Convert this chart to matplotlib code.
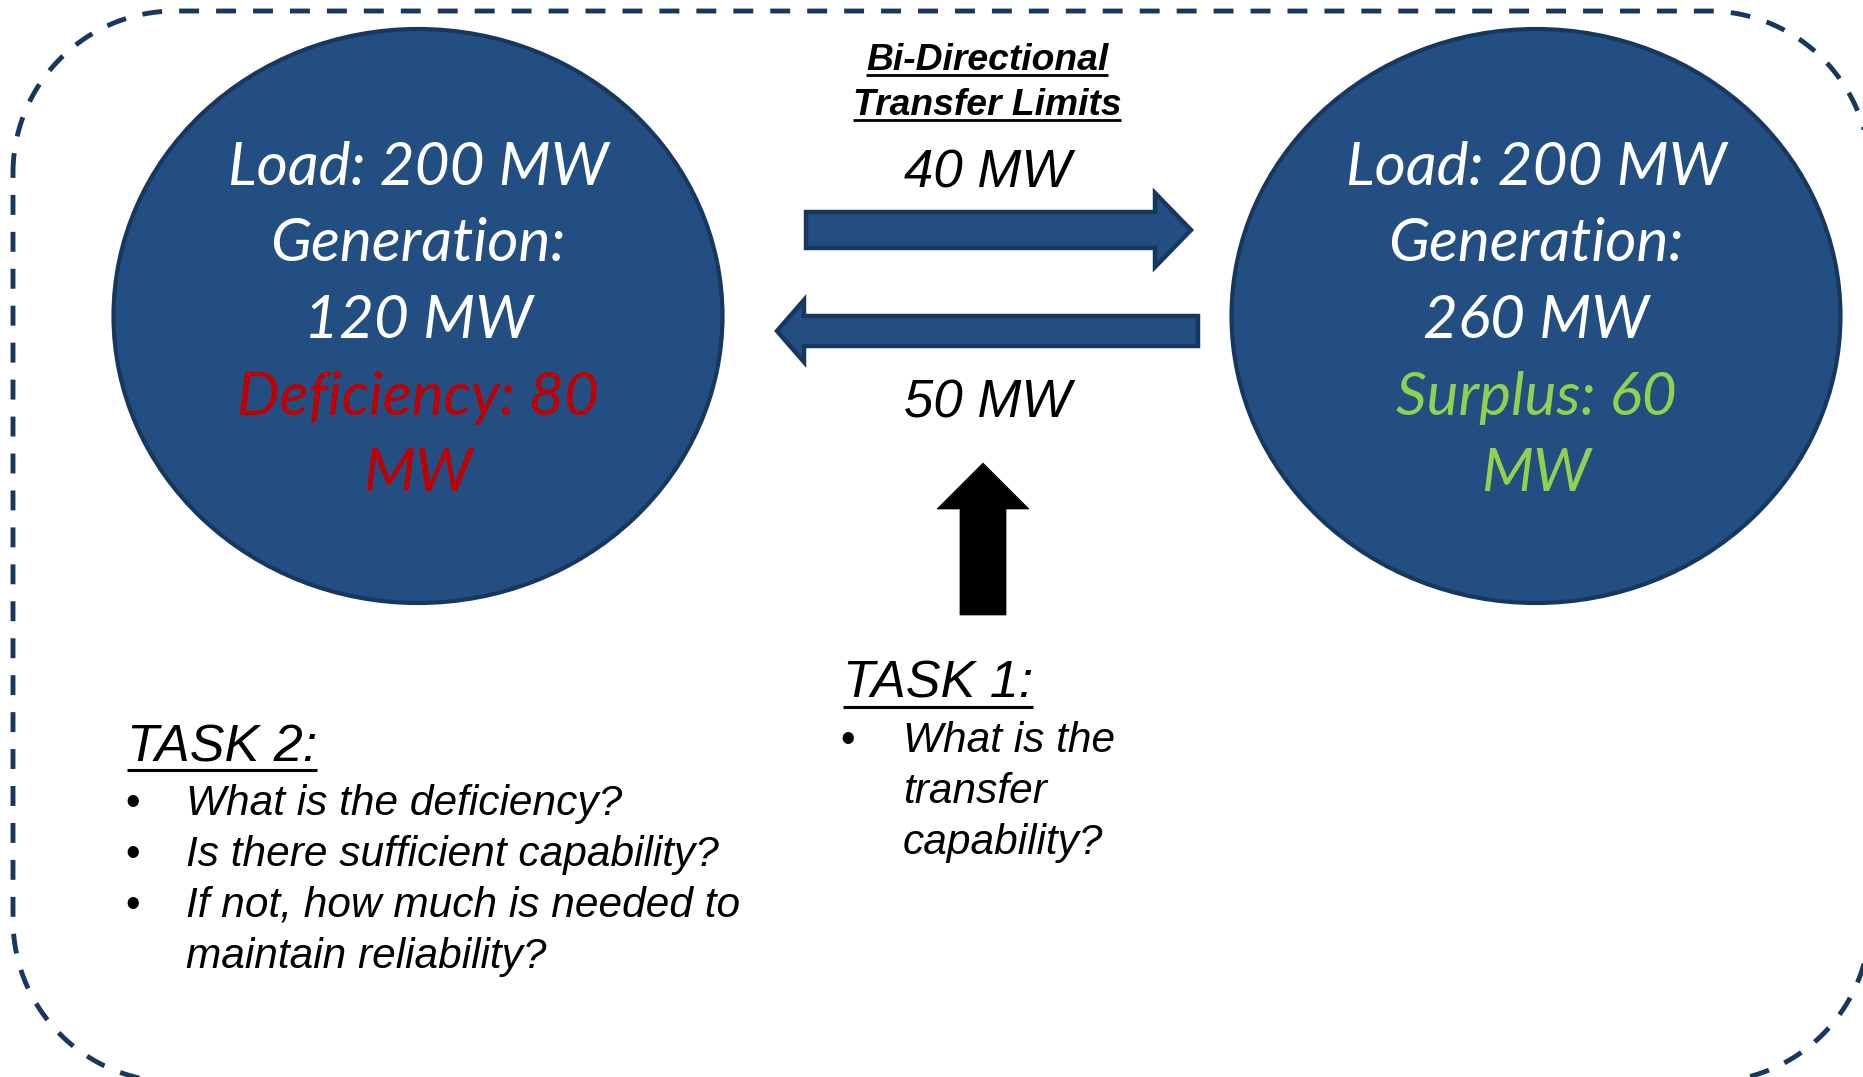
import matplotlib
matplotlib.use("Agg")
import numpy as np
import matplotlib.pyplot as plt
from matplotlib.patches import Ellipse, Polygon
from matplotlib.lines import Line2D

# ---------------- data ----------------
load_mw = [200, 200]
generation_mw = [120, 260]
balance_label = ["Deficiency", "Surplus"]
balance_mw = [80, 60]
transfer_limits_mw = [40, 50]          # left->right, right->left
limits_title = ["Bi-Directional", "Transfer Limits"]
task1_title = "TASK 1:"
task1_lines = ["What is the", "transfer", "capability?"]
task2_title = "TASK 2:"
task2_items = [["What is the deficiency?"],
               ["Is there sufficient capability?"],
               ["If not, how much is needed to", "maintain reliability?"]]

# ---------------- styles ----------------
NAVY = "#234E81"
NAVY_EDGE = "#18375F"
BORDER = "#17375E"
RED = "#C00000"
GREEN = "#92D050"
ARIAL = ["Liberation Sans", "DejaVu Sans"]
CAL = ["Lato", "DejaVu Sans"]

W, H = 1863, 1077
fig = plt.figure(figsize=(W / 100, H / 100), dpi=100)
ax = fig.add_axes([0, 0, 1, 1])
ax.set_xlim(0, W)
ax.set_ylim(H, 0)
ax.axis("off")
renderer = fig.canvas.get_renderer()


def text_width(s, **kw):
    t = ax.text(0, 500, s, **kw)
    w = t.get_window_extent(renderer).width
    t.remove()
    return w


def underline(t, dy, lw):
    bb = t.get_window_extent(renderer)
    inv = ax.transData.inverted()
    x0 = inv.transform((bb.x0, 0))[0]
    x1 = inv.transform((bb.x1, 0))[0]
    y = t.get_position()[1] + dy
    ax.add_line(Line2D([x0, x1], [y, y], color="black", lw=lw, solid_capstyle="butt"))


def rounded_rect(x0, y0, x1, y1, r, n=60):
    xs, ys = [], []
    corners = [(x0 + r, y0 + r, 180, 270), (x1 - r, y0 + r, 270, 360),
               (x1 - r, y1 - r, 0, 90), (x0 + r, y1 - r, 90, 180)]
    for cx, cy, a0, a1 in corners:
        a = np.radians(np.linspace(a0, a1, n))
        xs.extend(cx + r * np.cos(a))
        ys.extend(cy + r * np.sin(a))
    xs.append(xs[0])
    ys.append(ys[0])
    return xs, ys


# dashed rounded border
bx, by = rounded_rect(13, 11, 1870, 1082, 162)
ax.plot(bx, by, color=BORDER, lw=3.5, linestyle=(0, (4.1, 3.5)), clip_on=False)

# circles
centers_x = [418, 1536]
for cx in centers_x:
    ax.add_patch(Ellipse((cx, 316), 609, 574, facecolor=NAVY, edgecolor=NAVY_EDGE, lw=3.0))

# circle text font size fitted to the reference width of the first line
cal_kw = dict(family=CAL, style="italic")
ref_w = text_width(f"Load: {load_mw[0]} MW", fontsize=100, **cal_kw)
cal_size = 100 * 380 / ref_w

baselines = [185, 261, 338, 415, 491]
for i, cx in enumerate(centers_x):
    lines = [f"Load: {load_mw[i]} MW", "Generation:", f"{generation_mw[i]} MW",
             f"{balance_label[i]}: {balance_mw[i]}", "MW"]
    colors = ["white", "white", "white", RED if i == 0 else GREEN, RED if i == 0 else GREEN]
    for s, c, yb in zip(lines, colors, baselines):
        ax.text(cx, yb, s, color=c, fontsize=cal_size, ha="center", va="baseline", **cal_kw)

# transfer arrows
right_arrow = [(806, 212), (1155, 212), (1155, 193), (1191, 230), (1155, 267), (1155, 248), (806, 248)]
left_arrow = [(1198, 316), (804, 316), (804, 300), (777, 331), (804, 362), (804, 346), (1198, 346)]
for verts in (right_arrow, left_arrow):
    ax.add_patch(Polygon(verts, closed=True, facecolor=NAVY, edgecolor=NAVY_EDGE, lw=3.2, joinstyle="miter"))

up_arrow = [(960, 615), (960, 509), (937, 509), (983, 463), (1029, 509), (1006, 509), (1006, 615)]
ax.add_patch(Polygon(up_arrow, closed=True, facecolor="black", edgecolor="black", lw=0.5))

# limits title
for s, yb in zip(limits_title, [70, 115]):
    t = ax.text(987, yb, s, fontsize=26.8, family=ARIAL, style="italic", weight="bold",
                ha="center", va="baseline", color="black")
    underline(t, 5, 2.0)

ax.text(988, 188, f"{transfer_limits_mw[0]} MW", fontsize=38, family=ARIAL, style="italic",
        ha="center", va="baseline", color="black")
ax.text(988, 418, f"{transfer_limits_mw[1]} MW", fontsize=38, family=ARIAL, style="italic",
        ha="center", va="baseline", color="black")

# TASK 1
t = ax.text(843, 698, task1_title, fontsize=37.5, family=ARIAL, style="italic",
            ha="left", va="baseline", color="black")
underline(t, 9, 2.2)
ax.text(848, 752, "\u2022", fontsize=30, family=ARIAL, ha="center", va="baseline")
for s, yb in zip(task1_lines, [752, 803, 854]):
    ax.text(903, yb, s, fontsize=30.5, family=ARIAL, style="italic", ha="left", va="baseline")

# TASK 2
t = ax.text(127, 762, task2_title, fontsize=37.5, family=ARIAL, style="italic",
            ha="left", va="baseline", color="black")
underline(t, 8, 2.2)
yb = 815
for item in task2_items:
    ax.text(133, yb, "\u2022", fontsize=30, family=ARIAL, ha="center", va="baseline")
    for s in item:
        ax.text(186, yb, s, fontsize=30.5, family=ARIAL, style="italic", ha="left", va="baseline")
        yb += 51

fig.savefig("out.png", dpi=100, facecolor="white")
